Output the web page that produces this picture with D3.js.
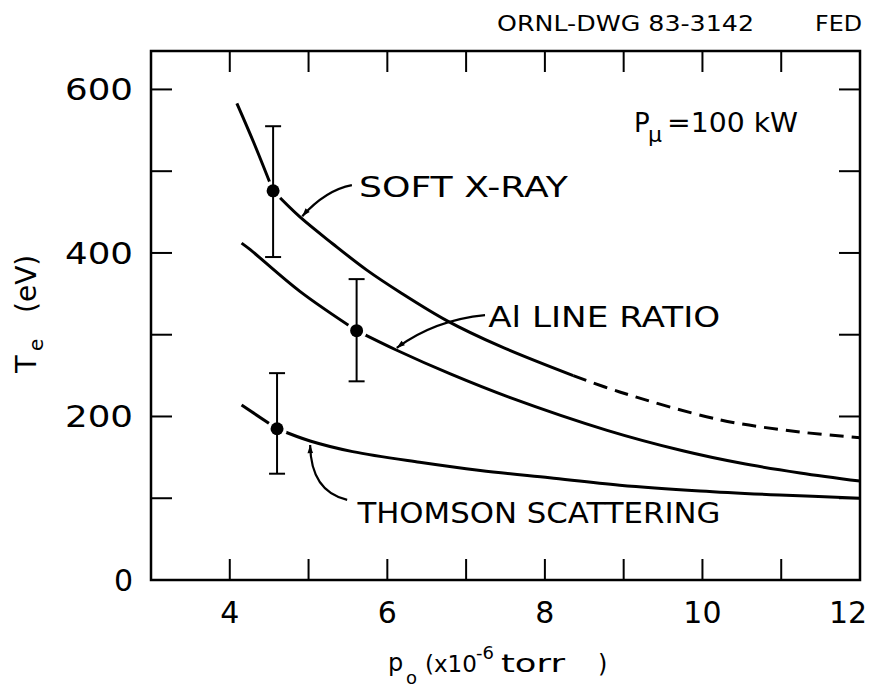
<!DOCTYPE html>
<html>
<head>
<meta charset="utf-8">
<script src="https://cdn.jsdelivr.net/npm/d3@7"></script>
<style>
  body { margin: 0; background: #fff; }
  text { font-family: "DejaVu Sans", sans-serif; fill: #000; }
</style>
</head>
<body>
<svg id="chart" width="874" height="688"></svg>
<script>
// ---- data ----
var softSolidX = [4.09, 4.30, 4.55, 4.89, 5.31, 5.74, 6.16, 6.76, 7.43, 8.36];
var softSolidY = [583, 536, 476, 444, 411, 379, 352, 317, 286, 250];
var softDashX = [8.36, 8.95, 10.22, 11.24, 12.0];
var softDashY = [250, 230, 196, 181, 174];

var alX = [4.15, 4.26, 4.89, 5.61, 6.12, 6.80, 7.56, 8.79, 9.75, 10.48, 11.24, 12.0];
var alY = [412, 404, 353, 305, 281, 252, 223, 183, 158, 143, 131, 121];

var thX = [4.15, 4.60, 5.02, 5.56, 6.41, 7.18, 8.06, 8.95, 9.97, 10.98, 12.0];
var thY = [214, 185, 170, 157, 144, 134, 125, 116, 109, 104, 100];

// measured points with error bars (soft x-ray, Al line ratio, Thomson)
var ptX = [4.55, 5.61, 4.60];
var ptY = [476, 305, 185];
var ptLo = [395, 243, 130];
var ptHi = [555, 368, 253];

var xMinorTicks = [4, 5, 6, 7, 8, 9, 10, 11];
var xTickLabels = [4, 6, 8, 10, 12];
var yMinorTicks = [100, 200, 300, 400, 500, 600];
var yTickLabels = [0, 200, 400, 600];

(function () {
var svg = d3.select("#chart");
var pl = 151, pr = 860, pt = 51, pb = 580;

var x = d3.scaleLinear().domain([3, 12]).range([pl, pr]);
var y = d3.scaleLinear().domain([0, 647]).range([pb, pt]);

var defs = svg.append("defs");
defs.append("marker")
    .attr("id", "arrow")
    .attr("viewBox", "0 0 10 10")
    .attr("refX", 10).attr("refY", 5)
    .attr("markerWidth", 13).attr("markerHeight", 8)
    .attr("markerUnits", "userSpaceOnUse")
    .attr("orient", "auto")
    .append("path").attr("d", "M0,1.5 L10,5 L0,8.5 Z").attr("fill", "#000");

// ---- frame + inward ticks ----
svg.append("rect")
    .attr("x", pl).attr("y", pt)
    .attr("width", pr - pl).attr("height", pb - pt)
    .attr("fill", "none").attr("stroke", "#000").attr("stroke-width", 2.5);

var tickLen = 21;
var g = svg.append("g").attr("stroke", "#000").attr("stroke-width", 2);
g.selectAll(".xb").data(xMinorTicks).enter().append("line")
    .attr("x1", function (d) { return x(d); }).attr("x2", function (d) { return x(d); })
    .attr("y1", pb).attr("y2", pb - tickLen);
g.selectAll(".xt").data(xMinorTicks).enter().append("line")
    .attr("x1", function (d) { return x(d); }).attr("x2", function (d) { return x(d); })
    .attr("y1", pt).attr("y2", pt + tickLen);
g.selectAll(".yl").data(yMinorTicks).enter().append("line")
    .attr("y1", function (d) { return y(d); }).attr("y2", function (d) { return y(d); })
    .attr("x1", pl).attr("x2", pl + tickLen);
g.selectAll(".yr").data(yMinorTicks).enter().append("line")
    .attr("y1", function (d) { return y(d); }).attr("y2", function (d) { return y(d); })
    .attr("x1", pr).attr("x2", pr - tickLen);

svg.selectAll(".xlab").data(xTickLabels).enter().append("text")
    .attr("x", function (d) { return d === 12 ? x(d) - 12 : x(d); })
    .attr("y", pb + 43)
    .attr("text-anchor", "middle")
    .attr("font-size", 30)
    .text(function (d) { return d; });
svg.selectAll(".ylab").data(yTickLabels).enter().append("text")
    .attr("x", pl - 18)
    .attr("y", function (d) { return y(d) + 11; })
    .attr("text-anchor", "end")
    .attr("font-size", 30)
    .each(function (d) {
        if (d >= 100) d3.select(this).attr("textLength", 68).attr("lengthAdjust", "spacingAndGlyphs");
    })
    .text(function (d) { return d; });

// ---- axis titles ----
var xt = svg.append("text").attr("font-size", 24);
xt.append("tspan").attr("x", 388).attr("y", 671).text("p");
xt.append("tspan").attr("x", 406).attr("y", 684).attr("font-size", 18).text("o");
xt.append("tspan").attr("x", 425).attr("y", 672).attr("font-size", 23).text("(x10");
xt.append("tspan").attr("x", 476).attr("y", 659).attr("font-size", 18).text("-6");
svg.append("text").attr("x", 501).attr("y", 672).attr("font-size", 25)
    .attr("textLength", 64).attr("lengthAdjust", "spacingAndGlyphs").text("torr");
svg.append("text").attr("x", 598).attr("y", 672).attr("font-size", 24).text(")");

var yt = svg.append("text").attr("transform", "translate(36,378) rotate(-90)").attr("font-size", 29);
yt.append("tspan").attr("x", 5).attr("y", 0).text("T");
yt.append("tspan").attr("x", 27).attr("y", 7).attr("font-size", 20).text("e");
yt.append("tspan").attr("x", 65).attr("y", 0).attr("font-size", 28).text("(eV)");

// ---- curves ----
var line = d3.line()
    .x(function (d) { return x(d[0]); })
    .y(function (d) { return y(d[1]); })
    .curve(d3.curveCatmullRom.alpha(0.5));

function pairs(xs, ys) { return xs.map(function (v, i) { return [v, ys[i]]; }); }
// break a curve at a measured point so the kink stays under the dot
function splitAt(xs, ys, px) {
    var all = pairs(xs, ys);
    var k = d3.minIndex(all, function (d) { return Math.abs(d[0] - px); });
    return [all.slice(0, k + 1), all.slice(k)];
}

var curves = svg.append("g").attr("fill", "none").attr("stroke", "#000").attr("stroke-width", 3);
splitAt(softSolidX, softSolidY, ptX[0]).forEach(function (p) { curves.append("path").attr("d", line(p)); });
curves.append("path").attr("d", line(pairs(softDashX, softDashY))).attr("stroke-dasharray", "14,8");
splitAt(alX, alY, ptX[1]).forEach(function (p) { curves.append("path").attr("d", line(p)); });
splitAt(thX, thY, ptX[2]).forEach(function (p) { curves.append("path").attr("d", line(p)); });

// white halo so the curve breaks around each dot
svg.selectAll(".halo").data(ptX).enter().append("circle")
    .attr("cx", function (d) { return x(d); })
    .attr("cy", function (d, i) { return y(ptY[i]); })
    .attr("r", 10).attr("fill", "#fff");

// error bars
var eb = svg.append("g").attr("stroke", "#000").attr("stroke-width", 2);
ptX.forEach(function (d, i) {
    eb.append("line").attr("x1", x(d)).attr("x2", x(d)).attr("y1", y(ptLo[i])).attr("y2", y(ptHi[i]));
    eb.append("line").attr("x1", x(d) - 8).attr("x2", x(d) + 8).attr("y1", y(ptLo[i])).attr("y2", y(ptLo[i]));
    eb.append("line").attr("x1", x(d) - 8).attr("x2", x(d) + 8).attr("y1", y(ptHi[i])).attr("y2", y(ptHi[i]));
});
svg.selectAll(".dot").data(ptX).enter().append("circle")
    .attr("cx", function (d) { return x(d); })
    .attr("cy", function (d, i) { return y(ptY[i]); })
    .attr("r", 6.5).attr("fill", "#000");

// ---- labels with leader arrows (positions in data units) ----
var labels = [
    { t: "SOFT X-RAY", x: 5.64, y: 468, len: 209, from: [5.55, 483], c: [5.22, 477], to: [4.92, 445] },
    { t: "Al LINE RATIO", x: 7.28, y: 309, len: 232, from: [7.24, 324], c: [6.60, 318], to: [6.12, 284] },
    { t: "THOMSON SCATTERING", x: 5.62, y: 70, len: 363, from: [5.49, 98], c: [5.03, 108], to: [5.02, 165] }
];
labels.forEach(function (l) {
    svg.append("text").attr("x", x(l.x)).attr("y", y(l.y))
        .attr("font-size", 29).attr("textLength", l.len).attr("lengthAdjust", "spacingAndGlyphs")
        .text(l.t);
    svg.append("path")
        .attr("d", "M" + x(l.from[0]) + "," + y(l.from[1]) +
            " Q" + x(l.c[0]) + "," + y(l.c[1]) + " " + x(l.to[0]) + "," + y(l.to[1]))
        .attr("fill", "none").attr("stroke", "#000").attr("stroke-width", 2.2)
        .attr("marker-end", "url(#arrow)");
});

// P_mu = 100 kW
svg.append("text").attr("x", 634).attr("y", 132).attr("font-size", 26).text("P");
svg.append("text").attr("x", 648).attr("y", 142).attr("font-size", 22).text("μ");
svg.append("text").attr("x", 667).attr("y", 132).attr("font-size", 26)
    .attr("textLength", 131).attr("lengthAdjust", "spacingAndGlyphs").text("=100 kW");

// drawing number
svg.append("text").attr("x", 497).attr("y", 31).attr("font-size", 22)
    .attr("textLength", 257).attr("lengthAdjust", "spacingAndGlyphs").text("ORNL-DWG 83-3142");
svg.append("text").attr("x", 815).attr("y", 31).attr("font-size", 22)
    .attr("textLength", 47).attr("lengthAdjust", "spacingAndGlyphs").text("FED");
})();
</script>
</body>
</html>
